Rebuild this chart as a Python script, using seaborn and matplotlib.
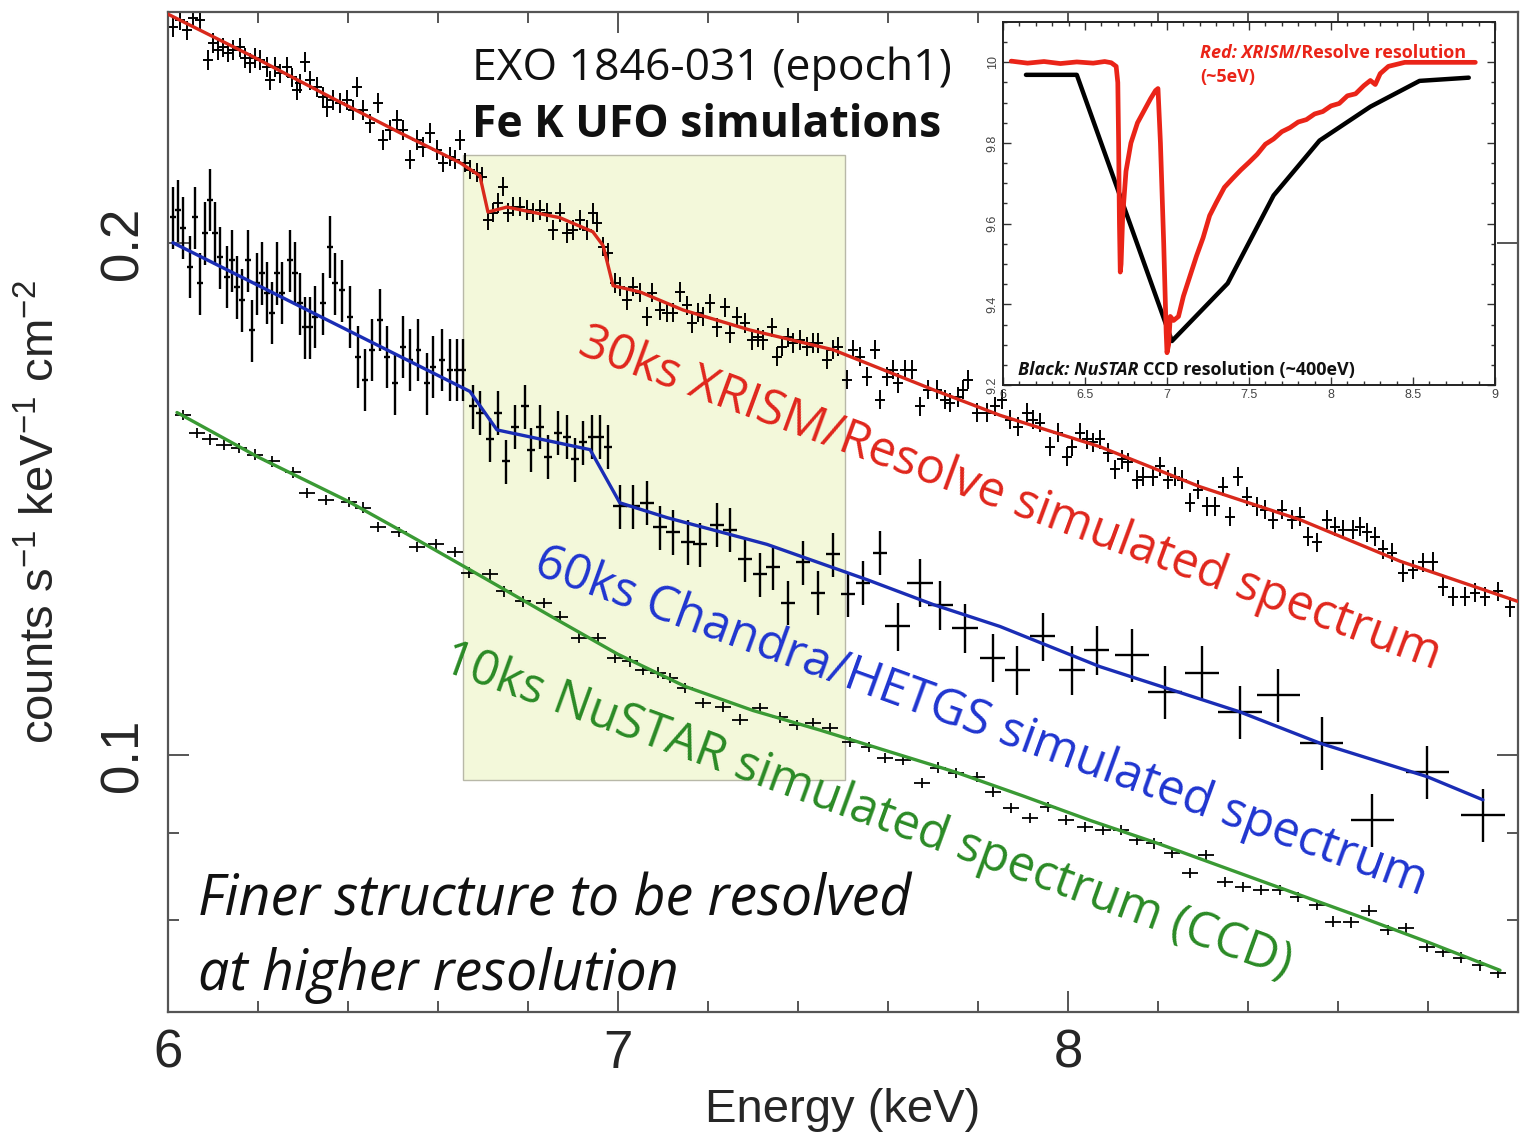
import matplotlib
matplotlib.use("Agg")
import matplotlib.pyplot as plt
import seaborn as sns
import pandas as pd
from matplotlib.patches import Rectangle
from matplotlib.ticker import FixedLocator, MultipleLocator, NullFormatter

# ---------------- data ----------------
# XRISM/Resolve simulated spectrum (data points)
red_energy = [
    6.011, 6.027, 6.042, 6.056, 6.071, 6.089, 6.100, 6.111, 6.122, 6.133,
    6.144, 6.160, 6.171, 6.182, 6.193, 6.204, 6.220, 6.227, 6.238, 6.249,
    6.264, 6.276, 6.287, 6.293, 6.304, 6.316, 6.331, 6.344, 6.353, 6.367,
    6.382, 6.398, 6.411, 6.420, 6.433, 6.449, 6.467, 6.478, 6.493, 6.509,
    6.522, 6.538, 6.553, 6.567, 6.582, 6.598, 6.611, 6.627, 6.638, 6.649,
    6.660, 6.671, 6.687, 6.698, 6.711, 6.722, 6.733, 6.744, 6.756, 6.767,
    6.782, 6.798, 6.811, 6.827, 6.842, 6.856, 6.871, 6.887, 6.900, 6.916,
    6.931, 6.944, 6.953, 6.967, 6.978,
    6.993, 7.004, 7.020, 7.033, 7.049, 7.064, 7.076, 7.093, 7.109, 7.122,
    7.138, 7.153, 7.164, 7.178, 7.189, 7.204, 7.220, 7.238, 7.249, 7.264,
    7.282, 7.298, 7.311, 7.322, 7.342, 7.353, 7.364, 7.378, 7.389, 7.404,
    7.420, 7.433, 7.444, 7.464, 7.478, 7.489, 7.509, 7.522, 7.538, 7.553,
    7.571, 7.582, 7.598, 7.611, 7.622, 7.638, 7.653, 7.671, 7.689, 7.709,
    7.727, 7.738, 7.756, 7.767, 7.778, 7.798, 7.820, 7.838, 7.853, 7.871,
    7.889, 7.909, 7.922,
    7.938, 7.960, 7.978, 7.998, 8.009, 8.027, 8.042, 8.056, 8.071, 8.089,
    8.104, 8.120, 8.133, 8.153, 8.167, 8.189, 8.204, 8.222, 8.238, 8.253,
    8.271, 8.289, 8.309, 8.327, 8.344, 8.360, 8.378, 8.398, 8.420, 8.438,
    8.456, 8.476, 8.498, 8.516, 8.533, 8.553, 8.576, 8.593, 8.611, 8.633,
    8.649, 8.664, 8.682, 8.700, 8.720, 8.744, 8.767, 8.789, 8.811, 8.833,
    8.856, 8.882, 8.904, 8.927, 8.956, 8.982]
red_flux = [
    .2680, .2705, .2669, .2712, .2705, .2563, .2623, .2598, .2608, .2588,
    .2598, .2608, .2570, .2553, .2570, .2563, .2539, .2494, .2539, .2518,
    .2539, .2504, .2461, .2484, .2556, .2494, .2471, .2438, .2405, .2428,
    .2418, .2428, .2395, .2471, .2395, .2353, .2418, .2300, .2331, .2363,
    .2331, .2239, .2300, .2278, .2322, .2269, .2230, .2248, .2239, .2300,
    .2230, .2209, .2200, .2188, .2064, .2084, .2112, .2159, .2084, .2101,
    .2101, .2092, .2084, .2092, .2084, .2036, .2084, .2028, .2036, .2064,
    .2036, .2084, .2056, .1990, .1974,
    .1895, .1885, .1852, .1885, .1870, .1810, .1870, .1827, .1820, .1820,
    .1872, .1839, .1795, .1820, .1810, .1844, .1785, .1834, .1771, .1810,
    .1795, .1754, .1761, .1754, .1785, .1715, .1738, .1761, .1747, .1754,
    .1738, .1747, .1747, .1708, .1731, .1738, .1662, .1731, .1715, .1669,
    .1731, .1618, .1669, .1685, .1655, .1685, .1685, .1603, .1640, .1640,
    .1618, .1611, .1624, .1640, .1662, .1590, .1590, .1603, .1618, .1575,
    .1560, .1590, .1575,
    .1568, .1518, .1547, .1498, .1518, .1547, .1533, .1527, .1533, .1506,
    .1472, .1492, .1486, .1452, .1458, .1458, .1478, .1452, .1458, .1452,
    .1407, .1432, .1400, .1400, .1438, .1381, .1458, .1419, .1400, .1394,
    .1375, .1394, .1375, .1381, .1344, .1334, .1375, .1362, .1357, .1357,
    .1362, .1352, .1344, .1321, .1315, .1280, .1285, .1298, .1299, .1256,
    .1239, .1239, .1246, .1239, .1248, .1222]
red_xerr = 0.011      # keV half bin
red_yrel = 0.013      # relative 1-sigma

# XRISM model
red_model_energy = [6.0, 6.182, 6.36, 6.516, 6.649, 6.693, 6.711, 6.753, 6.871, 6.944,
                    6.967, 6.989, 7.049, 7.144, 7.293, 7.478, 7.70, 7.849, 8.071,
                    8.293, 8.516, 8.738, 9.0]
red_model_flux = [.2727, .2580, .2438, .2322, .2230, .2191, .2086, .2100, .2070, .2031,
                  .1993, .1888, .1872, .1827, .1778, .1731, .1640, .1584, .1518,
                  .1438, .1375, .1300, .1231]

# Chandra/HETGS simulated spectrum
blue_energy = [
    6.011, 6.022, 6.033, 6.049, 6.060, 6.071, 6.082, 6.093, 6.104, 6.116,
    6.131, 6.142, 6.153, 6.164, 6.178, 6.187, 6.198, 6.209, 6.220, 6.231,
    6.242, 6.253, 6.271, 6.282, 6.293, 6.304, 6.316, 6.327, 6.344, 6.360,
    6.371, 6.387, 6.404, 6.422, 6.438, 6.453, 6.471, 6.487, 6.504, 6.522,
    6.538, 6.556, 6.576, 6.589, 6.609, 6.627, 6.642, 6.656,
    6.678, 6.693, 6.716, 6.733, 6.751, 6.771, 6.793, 6.807, 6.827, 6.844,
    6.867, 6.887, 6.904, 6.922, 6.942, 6.960, 6.978,
    7.004, 7.033, 7.064, 7.093, 7.122, 7.156, 7.182, 7.220, 7.249, 7.282,
    7.316, 7.344, 7.378, 7.411, 7.444, 7.478, 7.511, 7.544, 7.582,
    7.622, 7.671, 7.716, 7.771, 7.833, 7.887, 7.944, 8.009, 8.064,
    8.142, 8.216, 8.298, 8.382, 8.467, 8.564, 8.676, 8.798, 8.922]
blue_flux = [
    .2072, .2092, .2042, .1937, .2072, .1895, .2028, .2121, .2028, .1963,
    .1911, .1955, .1885, .1852, .1955, .1778, .1895, .1921, .1870, .1820,
    .1921, .1870, .1955, .1921, .1844, .1785, .1785, .1810, .1844, .1990,
    .1895, .1877, .1810, .1715, .1662, .1731, .1803, .1715, .1655, .1738,
    .1708, .1731, .1655, .1692, .1708, .1685, .1685, .1685,
    .1603, .1590, .1533, .1590, .1488, .1560, .1603, .1512, .1560, .1498,
    .1547, .1539, .1492, .1527, .1539, .1539, .1518,
    .1400, .1400, .1407, .1361, .1352, .1334, .1330, .1366, .1357, .1303,
    .1277, .1289, .1229, .1298, .1246, .1312, .1243, .1263, .1315,
    .1190, .1263, .1225, .1188, .1141, .1122, .1174, .1122, .1153,
    .1145, .1089, .1118, .1060, .1085, .1016, .0916, .0977, .0922]
blue_xerr = [0.006] * 48 + [0.009] * 17 + [0.016] * 19 + [0.028] * 9 + [0.038] * 3 + [0.048] * 6
blue_yrel = [0.042] * 48 + [0.030] * 17 + [0.030] * 19 + [0.033] * 9 + [0.036] * 9

blue_model_energy = [6.011, 6.671, 6.731, 6.938, 7.004, 7.109, 7.331, 7.553,
                     7.70, 7.849, 8.071, 8.382, 8.56, 8.798, 8.922]
blue_model_flux = [.2001, .1636, .1553, .1512, .1407, .1379, .1330, .1268,
                   .1226, .1190, .1127, .1060, .1016, .0971, .0941]

# NuSTAR simulated spectrum
green_energy = [
    6.033, 6.064, 6.093, 6.124, 6.158, 6.193, 6.231, 6.278, 6.309, 6.351,
    6.402, 6.433, 6.467, 6.513, 6.553, 6.596, 6.638, 6.669, 6.716, 6.747,
    6.789, 6.836, 6.871, 6.913, 6.956, 6.993, 7.027, 7.056, 7.089, 7.116,
    7.149, 7.189, 7.233, 7.271, 7.316, 7.360, 7.398, 7.433, 7.471, 7.516,
    7.558, 7.593, 7.633, 7.676, 7.711, 7.751, 7.798, 7.833, 7.873, 7.916,
    7.956, 7.996, 8.038, 8.078, 8.118, 8.153, 8.191, 8.231, 8.271, 8.307,
    8.349, 8.389, 8.429, 8.471, 8.511, 8.553, 8.589, 8.629, 8.669, 8.711,
    8.751, 8.798, 8.833, 8.873, 8.916, 8.956]
green_flux = [
    .1585, .1547, .1533, .1522, .1516, .1502, .1488, .1466, .1426, .1413,
    .1409, .1398, .1362, .1353, .1325, .1330, .1316, .1280, .1277, .1248,
    .1231, .1229, .1206, .1172, .1172, .1141, .1135, .1122, .1118, .1110,
    .1095, .1073, .1067, .1049, .1066, .1052, .1041, .1044, .1037, .1018,
    .1011, .0996, .0993, .0963, .0983, .0976, .0971, .0951, .0931, .0918,
    .0932, .0916, .0907, .0903, .0903, .0891, .0887, .0876, .0852, .0873,
    .0842, .0836, .0833, .0833, .0825, .0816, .0798, .0797, .0810, .0789,
    .0791, .0771, .0766, .0760, .0752, .0744]
green_xerr = 0.018
green_yrel = 0.007

green_model_energy = [6.02, 6.20, 6.40, 6.55, 6.70, 6.85, 7.00, 7.15, 7.30, 7.45,
                      7.60, 7.75, 7.90, 8.05, 8.20, 8.35, 8.50, 8.65, 8.80, 8.96]
green_model_flux = [.1590, .1497, .1410, .1340, .1272, .1207, .1146, .1097, .1062, .1034,
                    .1005, .0977, .0946, .0915, .0887, .0858, .0830, .0803, .0776, .0747]

# inset: absorption line profiles (normalised)
inset_red_energy = [6.05, 6.15, 6.25, 6.35, 6.45, 6.55, 6.62, 6.66, 6.69, 6.70, 6.705, 6.71,
                    6.715, 6.72, 6.73, 6.75, 6.78, 6.82, 6.86, 6.90, 6.93, 6.945, 6.96, 6.98,
                    6.995, 7.00, 7.01, 7.02, 7.04, 7.07, 7.10, 7.14, 7.18, 7.22, 7.26, 7.30,
                    7.35, 7.40, 7.45, 7.50, 7.55, 7.60, 7.65, 7.70, 7.75, 7.80, 7.85, 7.90,
                    7.95, 8.00, 8.05, 8.10, 8.15, 8.20, 8.24, 8.27, 8.30, 8.35, 8.40, 8.45,
                    8.55, 8.65, 8.75, 8.88]
inset_red_value = [10.003, 9.998, 10.002, 9.997, 10.001, 9.998, 10.002, 9.999, 9.990, 9.95,
                   9.80, 9.60, 9.48, 9.50, 9.62, 9.73, 9.80, 9.85, 9.88, 9.91, 9.93, 9.935,
                   9.80, 9.55, 9.33, 9.28, 9.30, 9.37, 9.36, 9.37, 9.42, 9.47, 9.52, 9.565,
                   9.62, 9.652, 9.69, 9.712, 9.733, 9.752, 9.772, 9.797, 9.81, 9.828, 9.838,
                   9.852, 9.858, 9.872, 9.878, 9.892, 9.898, 9.917, 9.922, 9.942, 9.955,
                   9.945, 9.972, 9.99, 9.995, 10.0, 10.0, 10.0, 10.0, 10.0]
inset_black_energy = [6.14, 6.45, 7.03, 7.37, 7.65, 7.93, 8.24, 8.54, 8.84]
inset_black_value = [9.969, 9.969, 9.309, 9.452, 9.670, 9.806, 9.890, 9.954, 9.962]

x_ticks = [6, 7, 8]
y_ticks = [0.1, 0.2]
y_minor_ticks = [0.08, 0.09]
inset_x_ticks = [6, 6.5, 7, 7.5, 8, 8.5, 9]
inset_x_labels = ["6", "6.5", "7", "7.5", "8", "8.5", "9"]
inset_y_ticks = [9.2, 9.4, 9.6, 9.8, 10.0]
inset_y_labels = ["9.2", "9.4", "9.6", "9.8", "10"]
band_energy = (6.656, 7.504)
band_flux = (0.0967, 0.2253)

# ---------------- style ----------------
sns.set_theme(style="ticks")
plt.rcParams["font.family"] = ["Liberation Sans", "DejaVu Sans"]
plt.rcParams["mathtext.fontset"] = "custom"
plt.rcParams["mathtext.rm"] = "Liberation Sans"
plt.rcParams["mathtext.it"] = "Liberation Sans:italic"
ANN = ["Open Sans", "DejaVu Sans"]
SPINE = "#555555"

W, H = 1520, 1136
fig = plt.figure(figsize=(W / 100, H / 100), dpi=100)
fig.patch.set_facecolor("white")
ax = fig.add_axes([168 / W, 1 - 1012 / H, 1350 / W, 1000 / H])
ax.set_facecolor("white")
ax.set_yscale("log")
ax.set_xlim(6, 9)
ax.set_ylim(0.0706, 0.2735)

ax.add_patch(Rectangle((band_energy[0], band_flux[0]), band_energy[1] - band_energy[0],
                       band_flux[1] - band_flux[0], facecolor="#f3f8da",
                       edgecolor="#b8b8a8", lw=1.0, zorder=0.5))


def crosses(E, F, xerr, yrel, lw):
    if isinstance(yrel, list):
        yerr = [f * r for f, r in zip(F, yrel)]
    else:
        yerr = [f * yrel for f in F]
    ax.errorbar(E, F, xerr=xerr, yerr=yerr, fmt="none", ecolor="black",
                elinewidth=lw, capsize=0, zorder=2)


crosses(red_energy, red_flux, red_xerr, red_yrel, 1.4)
crosses(blue_energy, blue_flux, blue_xerr, blue_yrel, 1.7)
crosses(green_energy, green_flux, green_xerr, green_yrel, 1.3)

for e, f, c in [(red_model_energy, red_model_flux, "#d9291c"),
                (blue_model_energy, blue_model_flux, "#1a2db5"),
                (green_model_energy, green_model_flux, "#3a9a34")]:
    sns.lineplot(data=pd.DataFrame({"E": e, "F": f}), x="E", y="F", ax=ax, color=c,
                 lw=2.4, sort=False, estimator=None, legend=False, zorder=3)

ax.set_xticks(x_ticks)
ax.set_xticklabels([str(t) for t in x_ticks])
ax.xaxis.set_minor_locator(MultipleLocator(0.2))
ax.yaxis.set_major_locator(FixedLocator(y_ticks))
ax.set_yticklabels(["0.1", "0.2"])
ax.yaxis.set_minor_locator(FixedLocator(y_minor_ticks))
ax.yaxis.set_minor_formatter(NullFormatter())
ax.tick_params(which="both", direction="in", top=True, right=True, color=SPINE, width=1.4)
ax.tick_params(which="major", length=15)
ax.tick_params(which="minor", length=8)
ax.tick_params(axis="x", labelsize=38, pad=12)
ax.tick_params(axis="y", labelsize=38, pad=14, labelrotation=90)
for lbl in ax.get_yticklabels():
    lbl.set_va("center")
for s in ax.spines.values():
    s.set_color(SPINE)
    s.set_linewidth(1.6)

ax.set_xlabel("Energy (keV)", fontsize=34, labelpad=7)
ax.set_ylabel("counts s$^{-1}$ keV$^{-1}$ cm$^{-2}$", fontsize=34)
ax.yaxis.set_label_coords(-0.077, 0.5)

# titles
fig.text(472 / W, 1 - 80 / H, "EXO 1846-031 (epoch1)", family=ANN, fontsize=32,
         va="baseline", ha="left", color="#111111")
fig.text(472 / W, 1 - 137 / H, "Fe K UFO simulations", family=ANN, fontsize=32,
         fontweight="bold", va="baseline", ha="left", color="#111111")

# rotated series labels
fig.text(1010 / W, 1 - 499 / H, "30ks XRISM/Resolve simulated spectrum", family=ANN,
         fontsize=35, color="#e0261c", rotation=-20.2, rotation_mode="anchor",
         ha="center", va="center")
fig.text(981 / W, 1 - 722 / H, "60ks Chandra/HETGS simulated spectrum", family=ANN,
         fontsize=35, color="#1f35d0", rotation=-19.9, rotation_mode="anchor",
         ha="center", va="center")
fig.text(867 / W, 1 - 811 / H, "10ks NuSTAR simulated spectrum (CCD)", family=ANN,
         fontsize=35, color="#2a8a25", rotation=-20.0, rotation_mode="anchor",
         ha="center", va="center")

fig.text(198 / W, 1 - 915 / H, "Finer structure to be resolved", family=ANN,
         fontsize=40, style="italic", va="baseline", ha="left", color="#111111")
fig.text(198 / W, 1 - 990 / H, "at higher resolution", family=ANN,
         fontsize=40, style="italic", va="baseline", ha="left", color="#111111")

# ---------------- inset ----------------
ins = fig.add_axes([1003 / W, 1 - 385 / H, 492 / W, 363 / H], zorder=5)
ins.set_facecolor("white")
sns.lineplot(data=pd.DataFrame({"E": inset_black_energy, "V": inset_black_value}),
             x="E", y="V", ax=ins, color="black", lw=3.2, sort=False,
             estimator=None, legend=False)
sns.lineplot(data=pd.DataFrame({"E": inset_red_energy, "V": inset_red_value}),
             x="E", y="V", ax=ins, color="#ea2418", lw=3.4, sort=False,
             estimator=None, legend=False)
ins.set_xlim(6, 9)
ins.set_ylim(9.2, 10.1)
ins.set_xlabel("")
ins.set_ylabel("")
ins.xaxis.set_major_locator(FixedLocator(inset_x_ticks))
ins.xaxis.set_minor_locator(MultipleLocator(0.1))
ins.yaxis.set_major_locator(FixedLocator(inset_y_ticks))
ins.yaxis.set_minor_locator(MultipleLocator(0.05))
ins.set_xticklabels(inset_x_labels)
ins.set_yticklabels(inset_y_labels)
ins.tick_params(which="both", direction="in", top=True, right=True, color="#333333",
                width=1.0, labelcolor="#444444")
ins.tick_params(which="major", length=6)
ins.tick_params(which="minor", length=3)
ins.tick_params(axis="x", labelsize=9, pad=3)
ins.tick_params(axis="y", labelsize=9, pad=3, labelrotation=90)
for lbl in ins.get_yticklabels():
    lbl.set_va("center")
for s in ins.spines.values():
    s.set_color("#222222")
    s.set_linewidth(1.4)


def chain(axis, x, y, pieces, color, size):
    t = axis.text(x, y, pieces[0][0], color=color, fontsize=size, family=ANN,
                  fontweight="bold", style=pieces[0][1], va="baseline", ha="left")
    for txt, sty, gap in pieces[1:]:
        t = axis.annotate(txt, xy=(1, 0), xycoords=t, xytext=(gap, 0),
                          textcoords="offset points", va="bottom", ha="left",
                          color=color, fontsize=size, family=ANN, fontweight="bold",
                          style=sty)
    return t


chain(ins, 7.20, 10.011, [("Red: XRISM", "italic"), ("/Resolve resolution", "normal", 0)],
      "#ea2418", 13)
ins.text(7.20, 9.952, "(~5eV)", color="#ea2418", fontsize=13, family=ANN,
         fontweight="bold", va="baseline", ha="left")
chain(ins, 6.09, 9.226, [("Black: NuSTAR", "italic"), ("CCD resolution (~400eV)", "normal", 3.5)],
      "#111111", 13)

fig.savefig("out.png", dpi=100, facecolor="white")
